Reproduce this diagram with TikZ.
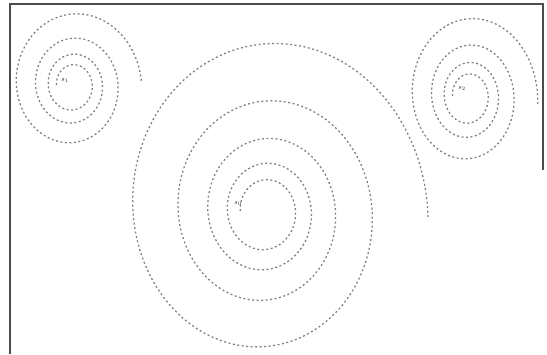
\documentclass[tikz,border=0pt]{standalone}
\begin{document}
\begin{tikzpicture}[x=1pt,y=-1pt,
  spiral/.style={draw=black!50,line width=1.25pt,dash pattern=on 2pt off 2.5pt},
  frameline/.style={draw=black!70,line width=1.4pt},
  lbl/.style={font=\scriptsize,text=black!85,inner sep=0pt}]
\useasboundingbox (0,0) rectangle (547,354);
\fill[white] (0,0) rectangle (547,354);
% frame
\draw[frameline] (10,354) -- (10,4) -- (543,4) -- (543,170);
% big centre spiral
\draw[spiral] plot[domain=-0.5:4.01,samples=600,smooth,variable=\t]
  ({265+30.5*exp(0.41871*\t)*cos(-360*\t)},{211-1.14*30.5*exp(0.41871*\t)*sin(-360*\t)});
% left spiral
\draw[spiral] plot[domain=-0.5:3.0,samples=450,smooth,variable=\t]
  ({72.5+19.7*exp(0.41871*\t)*cos(-360*\t)},{85-1.14*19.7*exp(0.41871*\t)*sin(-360*\t)});
% right spiral
\draw[spiral] plot[domain=-0.5:3.02,samples=450,smooth,variable=\t]
  ({468.5+19.7*exp(0.41871*\t)*cos(-360*\t)},{96-1.24*19.7*exp(0.41871*\t)*sin(-360*\t)});
% labels
\node[lbl] (l1) at (65,80) {$s_1$};
\node[lbl] (l0) at (238,203) {$s_0$};
\node[lbl] (l2) at (462,88) {$s_2$};
\end{tikzpicture}
\end{document}
